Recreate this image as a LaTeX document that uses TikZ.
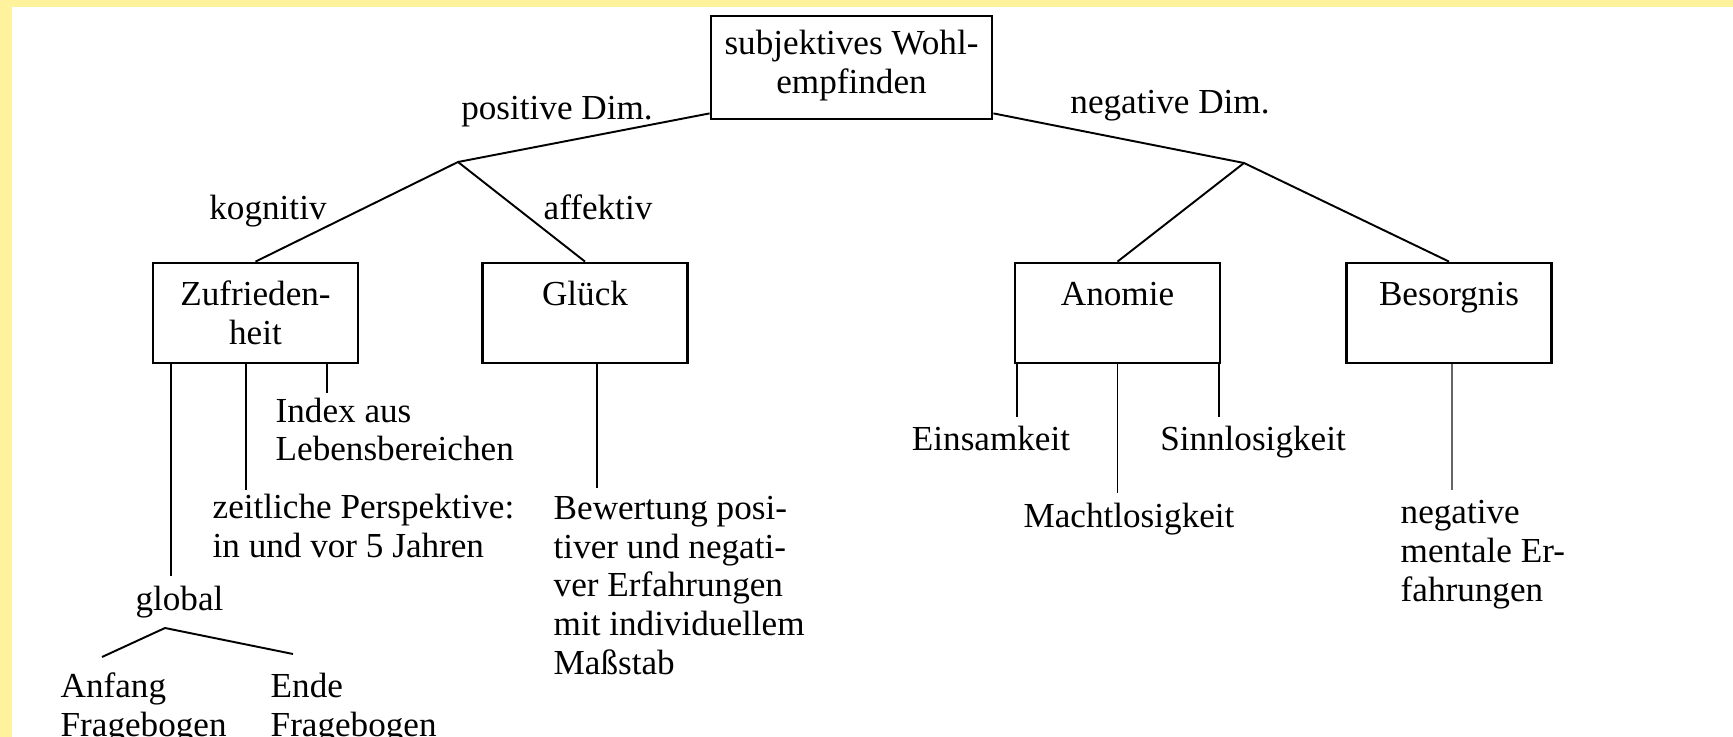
\documentclass[tikz,border=0pt]{standalone}
\usepackage{fontspec}
\setmainfont{Liberation Serif}
\usetikzlibrary{positioning}
\definecolor{paleyellow}{HTML}{FFF29C}

\begin{document}
\begin{tikzpicture}[
    font=\fontsize{10}{11}\selectfont,
    box/.style={draw, line width=0.8pt, minimum width=2.05cm, minimum height=1cm, inner sep=0pt},
    txt/.style={inner sep=0pt, align=left},
    link/.style={line width=0.55pt}
  ]
  \useasboundingbox (0,0) rectangle (17.33,-7.37);
  \fill[paleyellow] (0,0) rectangle (17.33,-0.07);
  \fill[paleyellow] (0,0) rectangle (0.12,-7.37);

  % boxes
  \node[box, minimum width=2.81cm, minimum height=1.03cm] (swb) at (8.515,-0.675) {};
  \node[box] (zuf)  at ( 2.555,-3.13) {};
  \node[box] (glk)  at ( 5.85 ,-3.13) {};
  \node[box] (anom) at (11.175,-3.13) {};
  \node[box] (bes)  at (14.49 ,-3.13) {};

  % multi-line texts: base = last line
  \node[txt, align=center, anchor=base] (swbtxt)  at ([yshift=-0.79cm]swb.north)  {subjektives Wohl-\\empfinden};
  \node[txt, align=center, anchor=base] (zuftxt)  at ([yshift=-0.83cm]zuf.north)  {Zufrieden-\\heit};
  \node[txt, anchor=base] (glktxt)  at ([yshift=-0.44cm]glk.north)  {Glück};
  \node[txt, anchor=base] (anomtxt) at ([yshift=-0.44cm]anom.north) {Anomie};
  \node[txt, anchor=base] (bestxt)  at ([yshift=-0.44cm]bes.north)  {Besorgnis};

  % dimensions
  \coordinate (pos) at ( 4.58,-1.62);
  \coordinate (neg) at (12.44,-1.63);
  \draw[link] ([yshift=0.07cm]swb.south west) -- (pos);
  \draw[link] ([yshift=0.07cm]swb.south east) -- (neg);
  \draw[link] (zuf.north) -- (pos) -- (glk.north);
  \draw[link] (anom.north) -- (neg) -- (bes.north);

  \node[txt, anchor=base] (posdim) at ( 5.57,-1.20) {positive Dim.};
  \node[txt, anchor=base] (negdim) at (11.70,-1.14) {negative Dim.};
  \node[txt, anchor=base] (kog)    at ( 2.68,-2.20) {kognitiv};
  \node[txt, anchor=base] (aff)    at ( 5.98,-2.20) {affektiv};

  % Zufriedenheit
  \coordinate (zufA) at (1.71,-5.76);
  \coordinate (zufB) at (2.46,-4.90);
  \coordinate (zufC) at (3.27,-3.93);
  \draw[link] (zufA |- zuf.south) -- (zufA);
  \draw[link] (zufB |- zuf.south) -- (zufB);
  \draw[link] (zufC |- zuf.south) -- (zufC);

  \node[txt, anchor=base west] (index) at (2.75,-4.61) {Index aus\\Lebensbereichen};
  \node[txt, anchor=base west] (zeit)  at (2.12,-5.57) {zeitliche Perspektive:\\in und vor 5 Jahren};
  \node[txt, anchor=base] (global) at (1.795,-6.10) {global};

  \coordinate (gtop) at (1.65,-6.28);
  \coordinate (gl) at (1.02,-6.57);
  \coordinate (gr) at (2.93,-6.54);
  \draw[link] (gl) -- (gtop) -- (gr);
  \node[txt, anchor=base west] (anf)  at (0.60,-7.36) {Anfang\\Fragebogen};
  \node[txt, anchor=base west] (ende) at (2.70,-7.36) {Ende\\Fragebogen};

  % Glueck
  \coordinate (glkA) at (5.97,-4.88);
  \draw[link] (glkA |- glk.south) -- (glkA);
  \node[txt, anchor=base west] (bew) at (5.53,-6.74)
    {Bewertung posi-\\tiver und negati-\\ver Erfahrungen\\mit individuellem\\Maßstab};

  % Anomie
  \coordinate (anomA) at (10.17 ,-4.17);
  \coordinate (anomB) at (11.175,-4.93);
  \coordinate (anomC) at (12.19 ,-4.17);
  \draw[link] (anomA |- anom.south) -- (anomA);
  \draw[link] (anomB |- anom.south) -- (anomB);
  \draw[link] (anomC |- anom.south) -- (anomC);
  \node[txt, anchor=base] (eins)  at ( 9.91,-4.51) {Einsamkeit};
  \node[txt, anchor=base] (macht) at (11.29,-5.27) {Machtlosigkeit};
  \node[txt, anchor=base] (sinn)  at (12.53,-4.51) {Sinnlosigkeit};

  % Besorgnis
  \coordinate (besA) at (14.52,-4.90);
  \draw[link, black!60] (besA |- bes.south) -- (besA);
  \node[txt, anchor=base west] (negm) at (14.00,-6.01) {negative\\mentale Er-\\fahrungen};
\end{tikzpicture}
\end{document}
